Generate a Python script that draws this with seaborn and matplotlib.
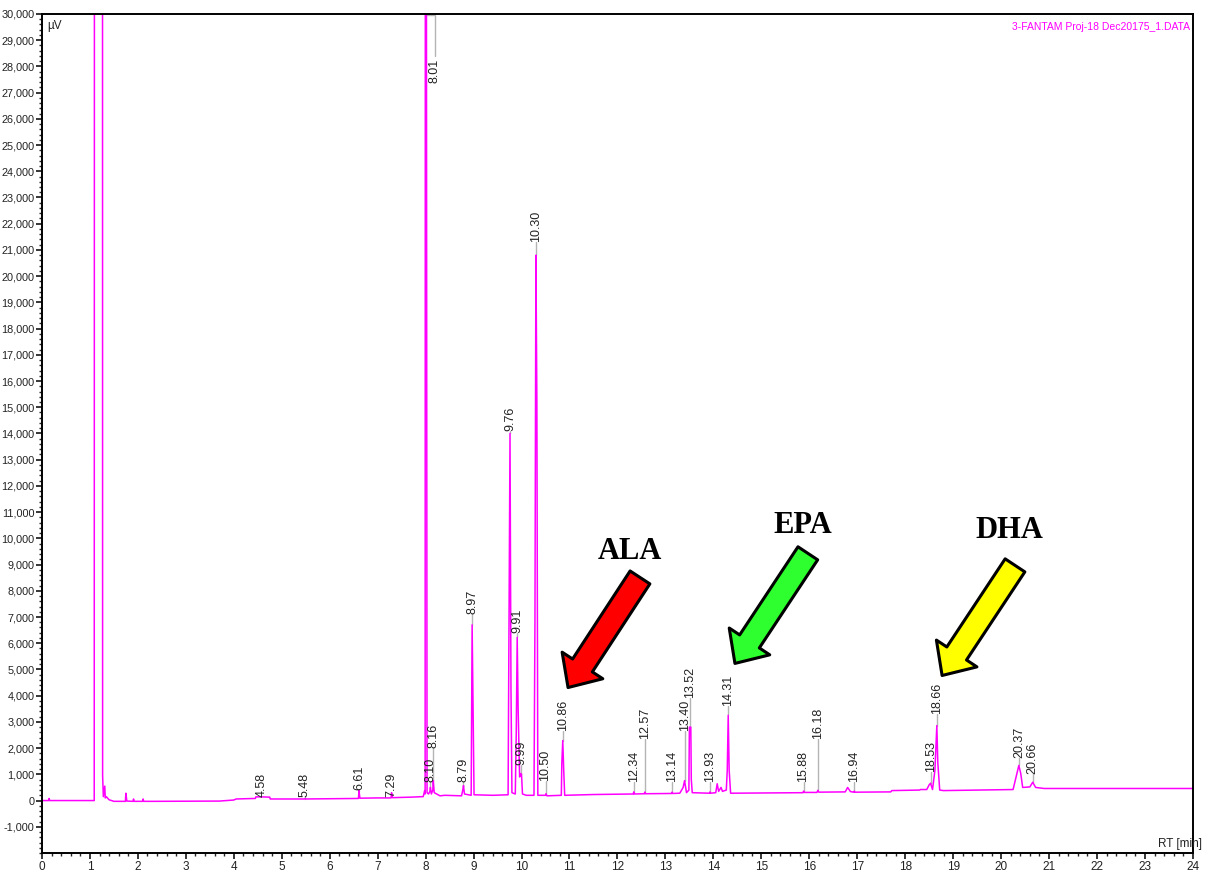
import matplotlib
matplotlib.use("Agg")
import matplotlib.pyplot as plt
import pandas as pd
import seaborn as sns
from matplotlib.ticker import FixedLocator, FuncFormatter, MultipleLocator


MAGENTA = "#FF00FF"
SANS = ["Liberation Sans", "DejaVu Sans"]

# chromatogram trace (retention time in min, signal in uV)
trace_rt = [
    0.00, 0.14, 0.15, 0.16, 1.09, 1.10, 1.26, 1.265, 1.28, 1.31, 1.32, 1.34, 1.40,
    1.50, 1.74, 1.75, 1.77, 1.90, 1.91, 1.92, 2.10, 2.11, 2.12, 2.30, 3.70, 4.00,
    4.05, 4.45, 4.46, 4.58, 4.75, 4.76, 5.47, 5.48, 5.50, 6.60, 6.61, 6.63, 7.00,
    7.28, 7.29, 7.31, 7.70, 7.95, 7.98, 7.99, 8.00, 8.02, 8.03, 8.06, 8.09, 8.10,
    8.12, 8.15, 8.16, 8.18, 8.30, 8.40, 8.75, 8.78, 8.79, 8.81, 8.95, 8.97, 8.99,
    9.01, 9.40, 9.72, 9.74, 9.76, 9.78, 9.80, 9.87, 9.89, 9.91, 9.93, 9.96, 9.98,
    10.00, 10.02, 10.10, 10.26, 10.28, 10.30, 10.32, 10.34, 10.50, 10.51, 10.53,
    10.83, 10.84, 10.86, 10.88, 10.90, 11.50, 12.33, 12.34, 12.35, 12.56, 12.57,
    12.58, 13.13, 13.14, 13.15, 13.30, 13.37, 13.40, 13.44, 13.49, 13.50, 13.53,
    13.54, 13.56, 13.92, 13.93, 13.94, 14.05, 14.08, 14.11, 14.16, 14.19, 14.27,
    14.29, 14.31, 14.33, 14.36, 15.00, 15.87, 15.88, 15.90, 16.16, 16.18, 16.20,
    16.75, 16.80, 16.86, 16.93, 16.94, 16.95, 17.00, 17.70, 17.72, 18.30, 18.32,
    18.45, 18.50, 18.53, 18.57, 18.62, 18.66, 18.68, 18.72, 18.80, 20.25, 20.33,
    20.37, 20.41, 20.45, 20.60, 20.66, 20.72, 20.90, 24.00,
]
trace_uv = [
    0, 0, 80, 0, 0, 80000, 80000, 950, 150, 550, 100, 150, 30,
    -30, -30, 280, -20, -30, 60, -30, -30, 60, -30, -30, -20, 20,
    60, 80, 140, 140, 130, 60, 60, 70, 60, 80, 380, 90, 100,
    100, 300, 110, 130, 150, 380, 250, 80000, 23400, 300, 250, 350, 500,
    250, 400, 760, 300, 180, 200, 180, 450, 570, 250, 200, 6700, 3370,
    220, 200, 220, 7250, 14000, 4280, 300, 250, 2550, 6220, 3440, 900, 1030,
    1000, 250, 200, 200, 6870, 20800, 15270, 200, 200, 260, 180,
    200, 1410, 2290, 1150, 200, 230, 250, 330, 250, 260, 320,
    260, 270, 320, 270, 280, 500, 760, 300, 400, 2800, 2800,
    800, 300, 280, 330, 280, 300, 640, 350, 500, 350, 400,
    1150, 3250, 1150, 280, 290, 300, 360, 310, 310, 390, 320,
    330, 500, 340, 320, 360, 320, 320, 330, 380, 400, 420,
    420, 600, 660, 420, 1150, 2860, 1460, 400, 380, 420, 1030,
    1340, 1030, 500, 520, 700, 500, 460, 460,
]

# integrated peaks: retention time label, apex height, height of the label foot
peak_rt = [4.58, 5.48, 6.61, 7.29, 8.10, 8.16, 8.79, 8.97, 9.76, 9.91, 9.99,
           10.30, 10.50, 10.86, 12.34, 12.57, 13.14, 13.40, 13.52, 13.93, 14.31,
           15.88, 16.18, 16.94, 18.53, 18.66, 20.37, 20.66]
peak_uv = [140, 70, 380, 300, 500, 760, 570, 6700, 14000, 6220, 1030,
           20800, 260, 2290, 330, 320, 320, 760, 2800, 330, 3250,
           360, 390, 360, 660, 2860, 1340, 700]
label_uv = [150, 150, 400, 150, 700, 2000, 690, 7100, 14100, 6400, 1340,
            21300, 760, 2670, 700, 2360, 700, 2670, 3930, 700, 3620,
            700, 2360, 700, 1070, 3320, 1640, 1030]

# the off-scale main peak gets its label hooked below the top edge
big_rt = 8.01
big_label_rt = 8.19

acids = ["ALA", "EPA", "DHA"]
acid_colors = ["#FF0000", "#2EFF2E", "#FFFF00"]
arrow_tail = [(12.47, 8510), (15.97, 9430), (20.29, 8970)]
arrow_tip = [(10.97, 4310), (14.45, 5230), (18.77, 4770)]
acid_text = [(12.26, 9500), (15.87, 10500), (20.18, 10300)]


def setup_axes(fig):
    ax = fig.add_axes([0.0347, 0.0218, 0.9520, 0.9622])
    ax.set_xlim(0, 24)
    ax.set_ylim(-2000, 30000)
    ax.xaxis.set_major_locator(MultipleLocator(1))
    ax.xaxis.set_minor_locator(MultipleLocator(0.2))
    ax.yaxis.set_major_locator(FixedLocator(list(range(-1000, 30001, 1000))))
    ax.yaxis.set_minor_locator(MultipleLocator(200))
    ax.yaxis.set_major_formatter(FuncFormatter(lambda v, p: f"{int(v):,}"))
    ax.tick_params(which="major", direction="out", length=4, width=1.3,
                   labelsize=8.5, labelcolor="#222222", pad=2)
    ax.tick_params(axis="y", which="major", labelsize=7.8, pad=1.2)
    ax.tick_params(which="minor", direction="out", length=2.5, width=1.0)
    ax.tick_params(axis="both", which="both", left=True, bottom=True)
    for spine in ax.spines.values():
        spine.set_color("black")
        spine.set_linewidth(1.4)
    ax.set_xlabel("")
    ax.set_ylabel("")
    return ax


def draw_peak_labels(ax):
    for rt, top, foot in zip(peak_rt, peak_uv, label_uv):
        if foot > top:
            ax.plot([rt, rt], [top, foot], color="#B4B4B4", lw=1.0, zorder=1)
        ax.text(rt, foot, f"{rt:.2f}", rotation=90, ha="center", va="bottom",
                fontsize=9, color="#222222", family=SANS, zorder=4)

    ax.plot([big_rt, big_label_rt, big_label_rt], [29950, 29950, 28400],
            color="#B4B4B4", lw=1.0, zorder=1, clip_on=False)
    ax.text(big_label_rt, 28300, f"{big_rt:.2f}", rotation=90, ha="center",
            va="top", fontsize=9, color="#222222", family=SANS, zorder=4)


def draw_arrows(ax):
    style = "simple,head_length=1.9,head_width=3.5,tail_width=1.7"
    for name, color, tail, tip, pos in zip(acids, acid_colors, arrow_tail,
                                           arrow_tip, acid_text):
        ax.annotate("", xy=tip, xytext=tail,
                    arrowprops=dict(arrowstyle=style, mutation_scale=10,
                                    fc=color, ec="black", lw=2.2,
                                    shrinkA=0, shrinkB=0),
                    zorder=5)
        ax.text(pos[0], pos[1], name, ha="center", va="center",
                fontsize=22, fontweight="bold", family="Liberation Serif",
                color="black", zorder=6)


def main():
    sns.set_style("white")
    plt.rcParams["font.family"] = SANS

    fig = plt.figure(figsize=(12.09, 8.72), dpi=100)
    ax = setup_axes(fig)

    trace = pd.DataFrame({"rt": trace_rt, "uv": trace_uv})
    sns.lineplot(data=trace, x="rt", y="uv", color=MAGENTA, lw=1.1,
                 estimator=None, sort=False, ax=ax, zorder=2)
    ax.set_xlabel("")
    ax.set_ylabel("")

    draw_peak_labels(ax)
    draw_arrows(ax)

    ax.text(0.005, 0.993, "µV", transform=ax.transAxes, ha="left", va="top",
            fontsize=8.5, color="#222222")
    ax.text(0.9975, 0.991, "3-FANTAM Proj-18 Dec20175_1.DATA",
            transform=ax.transAxes, ha="right", va="top", fontsize=7.5,
            color=MAGENTA)
    ax.text(1.008, 0.004, "RT [min]", transform=ax.transAxes, ha="right",
            va="bottom", fontsize=8.5, color="#222222")

    fig.savefig("out.png", dpi=100)
    plt.close(fig)


if __name__ == "__main__":
    main()
